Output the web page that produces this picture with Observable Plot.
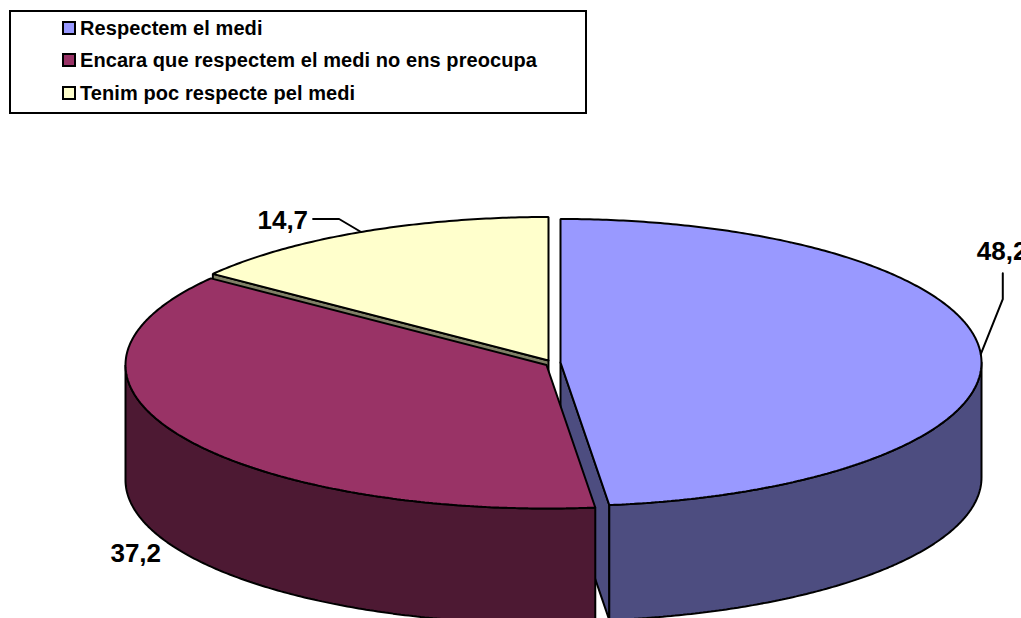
<!DOCTYPE html>
<html lang="ca">
<head>
<meta charset="utf-8">
<script src="https://cdn.jsdelivr.net/npm/d3@7"></script>
<script src="https://cdn.jsdelivr.net/npm/@observablehq/plot@0.6"></script>
<style>
  html, body { margin: 0; padding: 0; background: #fff; overflow: hidden; }
  #wrap { width: 1021px; height: 618px; position: relative; overflow: hidden; }
  #legend { box-sizing: border-box; position: absolute; left: 9px; top: 10px; width: 578px; height: 104px;
            border: 2px solid #000; font: bold 20px "Liberation Sans", Arial, sans-serif; letter-spacing: 0.08px; color: #000; }
  .row { position: absolute; left: 51px; height: 20px; line-height: 20px; white-space: nowrap; }
  .sw { position: absolute; left: 0; top: 3px; width: 14px; height: 14px; box-sizing: border-box; border: 2px solid #000; }
  .lab { position: absolute; left: 18px; top: 0; }
  #chart { position: absolute; left: 0; top: 125px; }
</style>
</head>
<body>
<div id="wrap">
  <div id="legend"></div>
  <div id="chart"></div>
</div>
<script>
const categories = ["Respectem el medi", "Encara que respectem el medi no ens preocupa", "Tenim poc respecte pel medi"];
const values = [48.2, 37.2, 14.7];
const labels = ["48,2", "37,2", "14,7"];
const topColors = ["#9999FF", "#993366", "#FFFFCC"];
const wallColors = ["#4D4D80", "#4D1933", "#808066"];

// Layout of the exploded 3D pie (page pixels)
const centers = [[560, 362], [546, 364.5], [548, 360]];
const rx = 421, ry = 143.5, depth = 115;
const chartTop = 125, W = 1021, H = 618;

const total = d3.sum(values);
const ends = Array.from(d3.cumsum(values), v => v / total * 2 * Math.PI);
const starts = [0, ...ends.slice(0, -1)];
const rim = (i, a) => ({x: centers[i][0] + rx * Math.sin(a), y: centers[i][1] - ry * Math.cos(a)});
const arc = (i, a0, a1) => {
  const n = Math.max(2, Math.ceil(Math.abs(a1 - a0) / 0.01));
  return d3.range(n + 1).map(k => rim(i, a0 + (a1 - a0) * k / n));
};
const down = p => ({x: p.x, y: p.y + depth});
const closeLoop = pts => [...pts, pts[0]];
const centerPt = i => ({x: centers[i][0], y: centers[i][1]});
const topFace = i => closeLoop([centerPt(i), ...arc(i, starts[i], ends[i])]);
const cutFace = (i, a) => {
  const p = rim(i, a), c = centerPt(i);
  return closeLoop([c, p, down(p), down(c)]);
};
const outerWall = (i, a0, a1) => {
  const r = arc(i, a0, a1);
  return closeLoop([...r, ...r.slice().reverse().map(down)]);
};

const shapes = [
  {pts: cutFace(2, starts[2]), fill: wallColors[2]},
  {pts: topFace(2), fill: topColors[2]},
  {pts: cutFace(0, ends[0]), fill: wallColors[0]},
  {pts: outerWall(0, Math.PI / 2, ends[0]), fill: wallColors[0]},
  {pts: topFace(0), fill: topColors[0]},
  {pts: outerWall(1, starts[1], 3 * Math.PI / 2), fill: wallColors[1]},
  {pts: topFace(1), fill: topColors[1]}
];

// Leader lines and labels hang off each slice's mid-angle on the rim
const mid = values.map((_, i) => (starts[i] + ends[i]) / 2);
const anchor0 = rim(0, mid[0]), anchor2 = rim(2, mid[2]), anchor1 = down(rim(1, mid[1]));
const leaders = [
  [anchor0, {x: anchor0.x + 22, y: anchor0.y - 55}, {x: anchor0.x + 22, y: anchor0.y - 81}],
  [anchor2, {x: anchor2.x - 22, y: anchor2.y - 13}, {x: anchor2.x - 48, y: anchor2.y - 13}]
];
const labelData = [
  {x: anchor0.x - 4, y: anchor0.y - 103, text: labels[0], anchor: "start"},
  {x: anchor1.x - 20, y: anchor1.y + 2, text: labels[1], anchor: "end"},
  {x: anchor2.x - 53, y: anchor2.y - 11, text: labels[2], anchor: "end"}
];

const plot = Plot.plot({
  width: W, height: H - chartTop,
  margin: 0,
  x: {domain: [0, W], range: [0, W], axis: null},
  y: {domain: [chartTop, H], range: [0, H - chartTop], axis: null},
  style: {display: "block", background: "#fff"},
  marks: [
    ...shapes.map(s => Plot.line(s.pts, {x: "x", y: "y", fill: s.fill, stroke: "#000", strokeWidth: 2, strokeLinejoin: "miter", curve: "linear"})),
    ...leaders.map(l => Plot.line(l, {x: "x", y: "y", stroke: "#000", strokeWidth: 2})),
    ...["start", "end"].map(a => Plot.text(labelData.filter(d => d.anchor === a), {
      x: "x", y: "y", text: "text", textAnchor: a, lineAnchor: "middle",
      fontFamily: "Liberation Sans, Arial, sans-serif", fontWeight: "bold", fontSize: 26, fill: "#000"
    }))
  ]
});
document.getElementById("chart").appendChild(plot);

const legend = document.getElementById("legend");
const rowTops = [6, 38, 71];
categories.forEach((c, i) => {
  const row = document.createElement("div");
  row.className = "row";
  row.style.top = rowTops[i] + "px";
  const sw = document.createElement("span");
  sw.className = "sw";
  sw.style.background = topColors[i];
  const lab = document.createElement("span");
  lab.className = "lab";
  lab.textContent = c;
  row.append(sw, lab);
  legend.append(row);
});
</script>
</body>
</html>
